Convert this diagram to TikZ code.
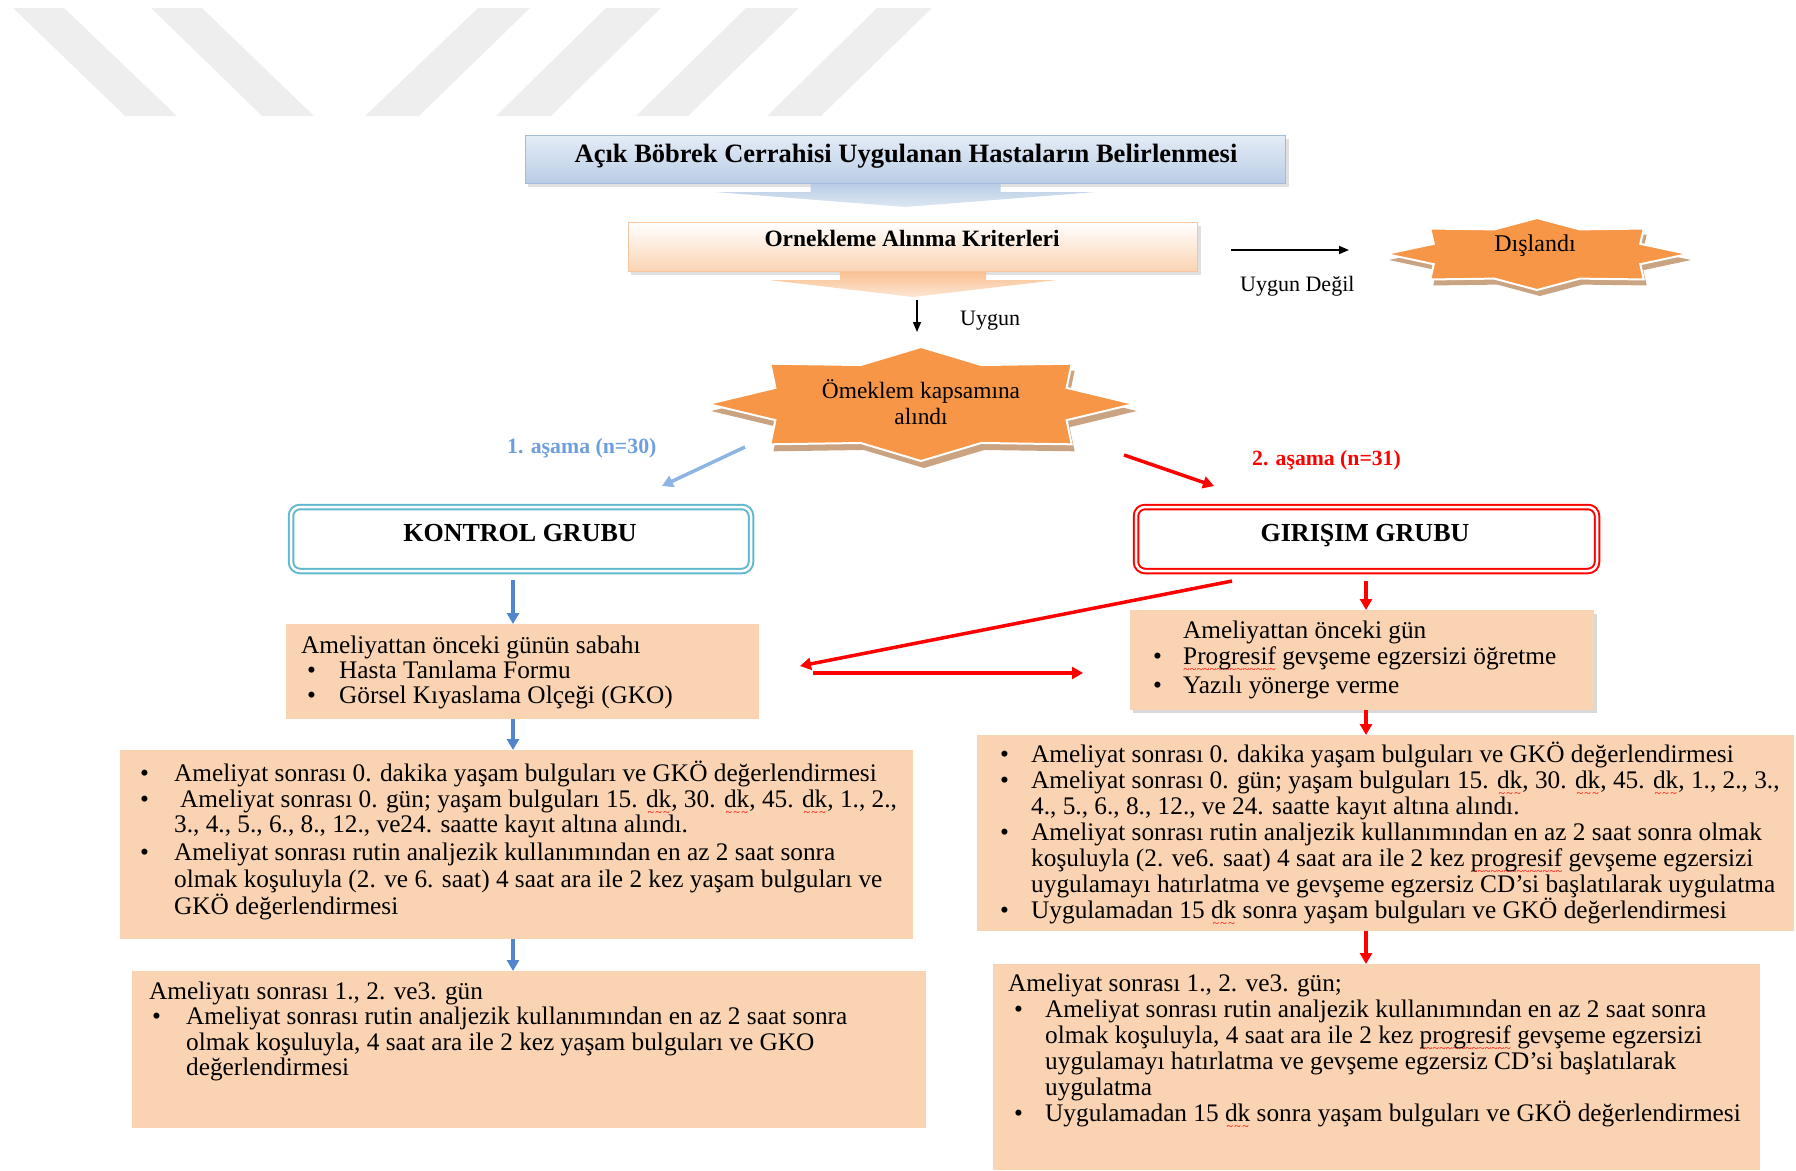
\documentclass[tikz,border=0pt]{standalone}
\usepackage{fontspec}
\setmainfont{Liberation Serif}
\usetikzlibrary{arrows.meta,calc}
\definecolor{peachc}{HTML}{FAD3B2}
\definecolor{peachD}{HTML}{F5C6A0}
\definecolor{blueT}{HTML}{E4ECF6}
\definecolor{blueB}{HTML}{B9CDE5}
\definecolor{blueD}{HTML}{A3BCDD}
\definecolor{blueL}{HTML}{DDE7F3}
\definecolor{peachAT}{HTML}{F9C193}
\definecolor{peachAB}{HTML}{FDE6D3}
\definecolor{orangeS}{HTML}{F79646}
\definecolor{shadowS}{HTML}{C9A382}
\definecolor{aqua}{HTML}{62B8D0}
\definecolor{lblue}{HTML}{8DB4E2}
\definecolor{lbluetxt}{HTML}{6E9FDC}
\definecolor{colblue}{HTML}{4F86CE}
\definecolor{wmgrey}{HTML}{EEEEEE}
\newcommand{\bul}[1]{\makebox[#1][l]{\textbullet}}
\newcommand{\ind}[1]{\hspace*{#1}}
\newcommand{\spl}[1]{\setbox0\hbox{#1}\rlap{\raisebox{-9pt}[0pt][0pt]{\hbox to \wd0{\color{red}\fontsize{12}{12}\selectfont\xleaders\hbox{\textasciitilde}\hfill}}}\box0\relax}
\newcommand{\drawestar}[4]{%
  \path[#1, shift={(#2)}] (#3,0)
  \foreach \ang/\rr in {22.5/0.74,45/1,67.5/0.74,90/1,112.5/0.74,135/1,157.5/0.74,180/1,202.5/0.74,225/1,247.5/0.74,270/1,292.5/0.74,315/1,337.5/0.74}{ -- ({\rr*#3*cos(\ang)},{\rr*#4*sin(\ang)}) } -- cycle;}
\begin{document}
\begin{tikzpicture}[x=1pt,y=-1pt,
  txt/.style={font=\fontsize{25.3}{26}\selectfont, inner sep=0pt, anchor=north west, align=left},
  lbl/.style={font=\fontsize{22}{26}\selectfont, inner sep=0pt, anchor=west},
  boxp/.style={fill=peachc, inner sep=0pt, anchor=north west},
  blk/.style={line width=1.5pt, -{Triangle[length=10pt,width=8pt]}},
  barr/.style={colblue, line width=3.5pt, -{Triangle[length=11pt,width=12pt]}},
  rarr/.style={red, line width=3.5pt, -{Triangle[length=11pt,width=12pt]}},
  larr/.style={lblue, line width=3.5pt, -{Triangle[length=11pt,width=12pt]}},
  grp/.style={anchor=north west, inner sep=0pt, rounded corners=9pt, line width=2pt, double=white, double distance=2.5pt, fill=white},
  ttl/.style={inner sep=0pt, font=\bfseries\fontsize{#1}{#1}\selectfont},
]
\useasboundingbox (0,0) rectangle (1796,1170);
% watermark stripes
\fill[wmgrey] (13,8) -- (64,8) -- (177,116) -- (125,116) -- cycle;
\fill[wmgrey] (151,8) -- (202,8) -- (314,116) -- (262,116) -- cycle;
\fill[wmgrey] (478,8) -- (530,8) -- (419,116) -- (365,116) -- cycle;
\fill[wmgrey] (606,8) -- (661,8) -- (551,116) -- (496,116) -- cycle;
\fill[wmgrey] (746,8) -- (799,8) -- (688,116) -- (636,116) -- cycle;
\fill[wmgrey] (877,8) -- (932,8) -- (821,116) -- (767,116) -- cycle;

% top box
\fill[black!12] (528,139) rectangle (1289,187);
\node[anchor=north west, minimum width=760pt, minimum height=48pt, inner sep=0pt, top color=blueT, bottom color=blueB, draw=blueD, line width=1pt] (T) at (525,135) {};
\path[top color=blueB, bottom color=blueL] ($(T.south)+(-95,0)$) -- ($(T.south)+(95,0)$) -- ($(T.south)+(95,8)$) -- ($(T.south)+(190,8)$) -- ($(T.south)+(0,23)$) -- ($(T.south)+(-190,8)$) -- ($(T.south)+(-95,8)$) -- cycle;
\node[ttl=26.5] (Tt) at (906,156) {Açık Böbrek Cerrahisi Uygulanan Hastaların Belirlenmesi};

% criteria box
\fill[black!12] (631,226) rectangle (1201,275);
\node[anchor=north west, minimum width=569pt, minimum height=49pt, inner sep=0pt, top color=white, bottom color=peachc, draw=peachD, line width=1pt] (C) at (628,222) {};
\path[top color=peachAT, bottom color=peachAB] ($(C.south)+(-73,0)$) -- ($(C.south)+(73,0)$) -- ($(C.south)+(73,8)$) -- ($(C.south)+(144,8)$) -- ($(C.south)+(0,25)$) -- ($(C.south)+(-144,8)$) -- ($(C.south)+(-73,8)$) -- cycle;
\node[ttl=23.4] (Ct) at (912,238) {Ornekleme Alınma Kriterleri};

% Uygun arrow
\coordinate (u1) at (917,300);
\coordinate (u2) at (917,332);
\draw[blk] (u1) -- (u2);
\node[lbl] (ug) at (960,321) {Uygun};

% Uygun Degil arrow
\coordinate (d1) at (1231,250);
\coordinate (d2) at (1349,250);
\draw[blk] (d1) -- (d2);
\node[lbl] (ud) at (1240,286) {Uygun Değil};

% Dislandi star
\coordinate (Dc) at (1537,254);
\drawestar{fill=shadowS}{1540,260}{151}{36}
\drawestar{fill=orangeS, draw=white, line width=2pt}{Dc}{151}{36}
\node[inner sep=0pt, font=\fontsize{24}{26}\selectfont] (D) at (1535,246) {Dışlandı};

% central star
\coordinate (Sc) at (921,404);
\drawestar{fill=shadowS}{924,411}{213}{57}
\drawestar{fill=orangeS, draw=white, line width=2pt}{Sc}{213}{57}
\node[inner sep=0pt, align=center, font=\fontsize{23.4}{26}\selectfont] (S) at (921,402) {Ömeklem kapsamına\\alındı};

% stage arrows
\coordinate (b1) at (745,447);
\coordinate (b2) at (662,486);
\draw[larr] (b1) -- (b2);
\node[lbl, font=\bfseries\fontsize{21.8}{26}\selectfont, text=lbluetxt] (s1) at (507,448) {1. aşama (n=30)};
\coordinate (r1) at (1124,455);
\coordinate (r2) at (1214,486);
\draw[rarr] (r1) -- (r2);
\node[lbl, font=\bfseries\fontsize{21.7}{26}\selectfont, text=red] (s2) at (1252,460) {2. aşama (n=31)};

% group boxes
\node[grp, draw=aqua, minimum width=460pt, minimum height=64pt] (K) at (290,506) {};
\node[ttl=26] (Kt) at (520,533) {KONTROL GRUBU};
\node[grp, draw=red, minimum width=461pt, minimum height=64pt] (G) at (1135,506) {};
\node[ttl=26] (Gt) at (1365,536) {GIRIŞIM GRUBU};

% left column boxes
\node[boxp, minimum width=473pt, minimum height=95pt] (L1) at (286,624) {};
\node[boxp, minimum width=793pt, minimum height=189pt] (L2) at (120,750) {};
\node[boxp, minimum width=794pt, minimum height=157pt] (L3) at (132,971) {};
% right column boxes
\fill[black!15] (1133,614) rectangle (1597,713);
\node[boxp, minimum width=464pt, minimum height=100pt] (R1) at (1130,610) {};
\node[boxp, minimum width=817pt, minimum height=196pt] (R2) at (977,735) {};
\node[boxp, minimum width=767pt, minimum height=206pt] (R3) at (993,964) {};

% column arrows
\coordinate (kb) at (513,580);
\draw[barr] (kb) -- (kb |- L1.north);
\draw[barr] (L1.south -| kb) -- (L2.north -| kb);
\draw[barr] (L2.south -| kb) -- (L3.north -| kb);
\coordinate (gb) at (1366,581);
\draw[rarr] (gb) -- (gb |- R1.north);
\draw[rarr] (R1.south -| gb) -- (R2.north -| gb);
\draw[rarr] (R2.south -| gb) -- (R3.north -| gb);

% red cross arrows
\coordinate (rd1) at (1232,581);
\coordinate (rd2) at (800,666);
\draw[rarr] (rd1) -- (rd2);
\coordinate (rh1) at (813,673);
\coordinate (rh2) at (1083,673);
\draw[rarr] (rh1) -- (rh2);

% texts
\node[txt, font=\fontsize{25.3}{25}\selectfont] (L1t) at (301,635.5) {Ameliyattan önceki günün sabahı\\
\ind{6pt}\bul{32pt}Hasta Tanılama Formu\\
\ind{6pt}\bul{32pt}Görsel Kıyaslama Olçeği (GKO)};

\node[txt] (R1t) at (1153,620.5) {\ind{30pt}Ameliyattan önceki gün\\
\bul{30pt}\spl{Progresif} gevşeme egzersizi öğretme\\[3pt]
\bul{30pt}Yazılı yönerge verme};

\node[txt] (L2t) at (140,760.5) {\bul{34pt}Ameliyat sonrası 0. dakika yaşam bulguları ve GKÖ değerlendirmesi\\
\bul{34pt}\ind{6pt}Ameliyat sonrası 0. gün; yaşam bulguları 15. \spl{dk}, 30. \spl{dk}, 45. \spl{dk}, 1., 2.,\\[-1pt]
\ind{34pt}3., 4., 5., 6., 8., 12., ve24. saatte  kayıt altına alındı.\\[2pt]
\bul{34pt}Ameliyat sonrası rutin analjezik kullanımından en az 2 saat sonra\\[1pt]
\ind{34pt}olmak koşuluyla (2. ve 6. saat) 4 saat ara ile 2 kez yaşam bulguları ve\\[1pt]
\ind{34pt}GKÖ değerlendirmesi};

\node[txt] (R2t) at (1000,742) {\bul{31pt}Ameliyat sonrası 0. dakika yaşam bulguları ve GKÖ değerlendirmesi\\
\bul{31pt}Ameliyat sonrası 0. gün; yaşam bulguları 15. \spl{dk}, 30. \spl{dk}, 45. \spl{dk}, 1., 2., 3.,\\
\ind{31pt}4., 5., 6., 8., 12., ve 24. saatte  kayıt altına alındı.\\
\bul{31pt}Ameliyat sonrası rutin analjezik kullanımından en az 2 saat sonra olmak\\
\ind{31pt}koşuluyla (2. ve6. saat) 4 saat ara ile 2 kez \spl{progresif} gevşeme egzersizi\\
\ind{31pt}uygulamayı hatırlatma ve gevşeme egzersiz CD’si başlatılarak uygulatma\\
\bul{31pt}Uygulamadan 15 \spl{dk} sonra yaşam bulguları ve GKÖ değerlendirmesi};

\node[txt, font=\fontsize{25.3}{25.5}\selectfont] (L3t) at (149,981.5) {Ameliyatı sonrası 1., 2. ve3. gün\\
\ind{3pt}\bul{34pt}Ameliyat sonrası rutin analjezik kullanımından en az 2 saat sonra\\
\ind{37pt}olmak koşuluyla,  4 saat ara ile 2 kez yaşam bulguları ve GKO\\
\ind{37pt}değerlendirmesi};

\node[txt] (R3t) at (1008,973.5) {Ameliyat sonrası 1., 2. ve3. gün;\\
\ind{6pt}\bul{31pt}Ameliyat sonrası rutin analjezik kullanımından en az 2 saat sonra\\
\ind{37pt}olmak koşuluyla, 4 saat ara ile  2 kez \spl{progresif} gevşeme egzersizi\\
\ind{37pt}uygulamayı hatırlatma ve gevşeme egzersiz CD’si başlatılarak\\
\ind{37pt}uygulatma\\
\ind{6pt}\bul{31pt}Uygulamadan 15 \spl{dk} sonra yaşam bulguları ve GKÖ değerlendirmesi};
\end{tikzpicture}
\end{document}
